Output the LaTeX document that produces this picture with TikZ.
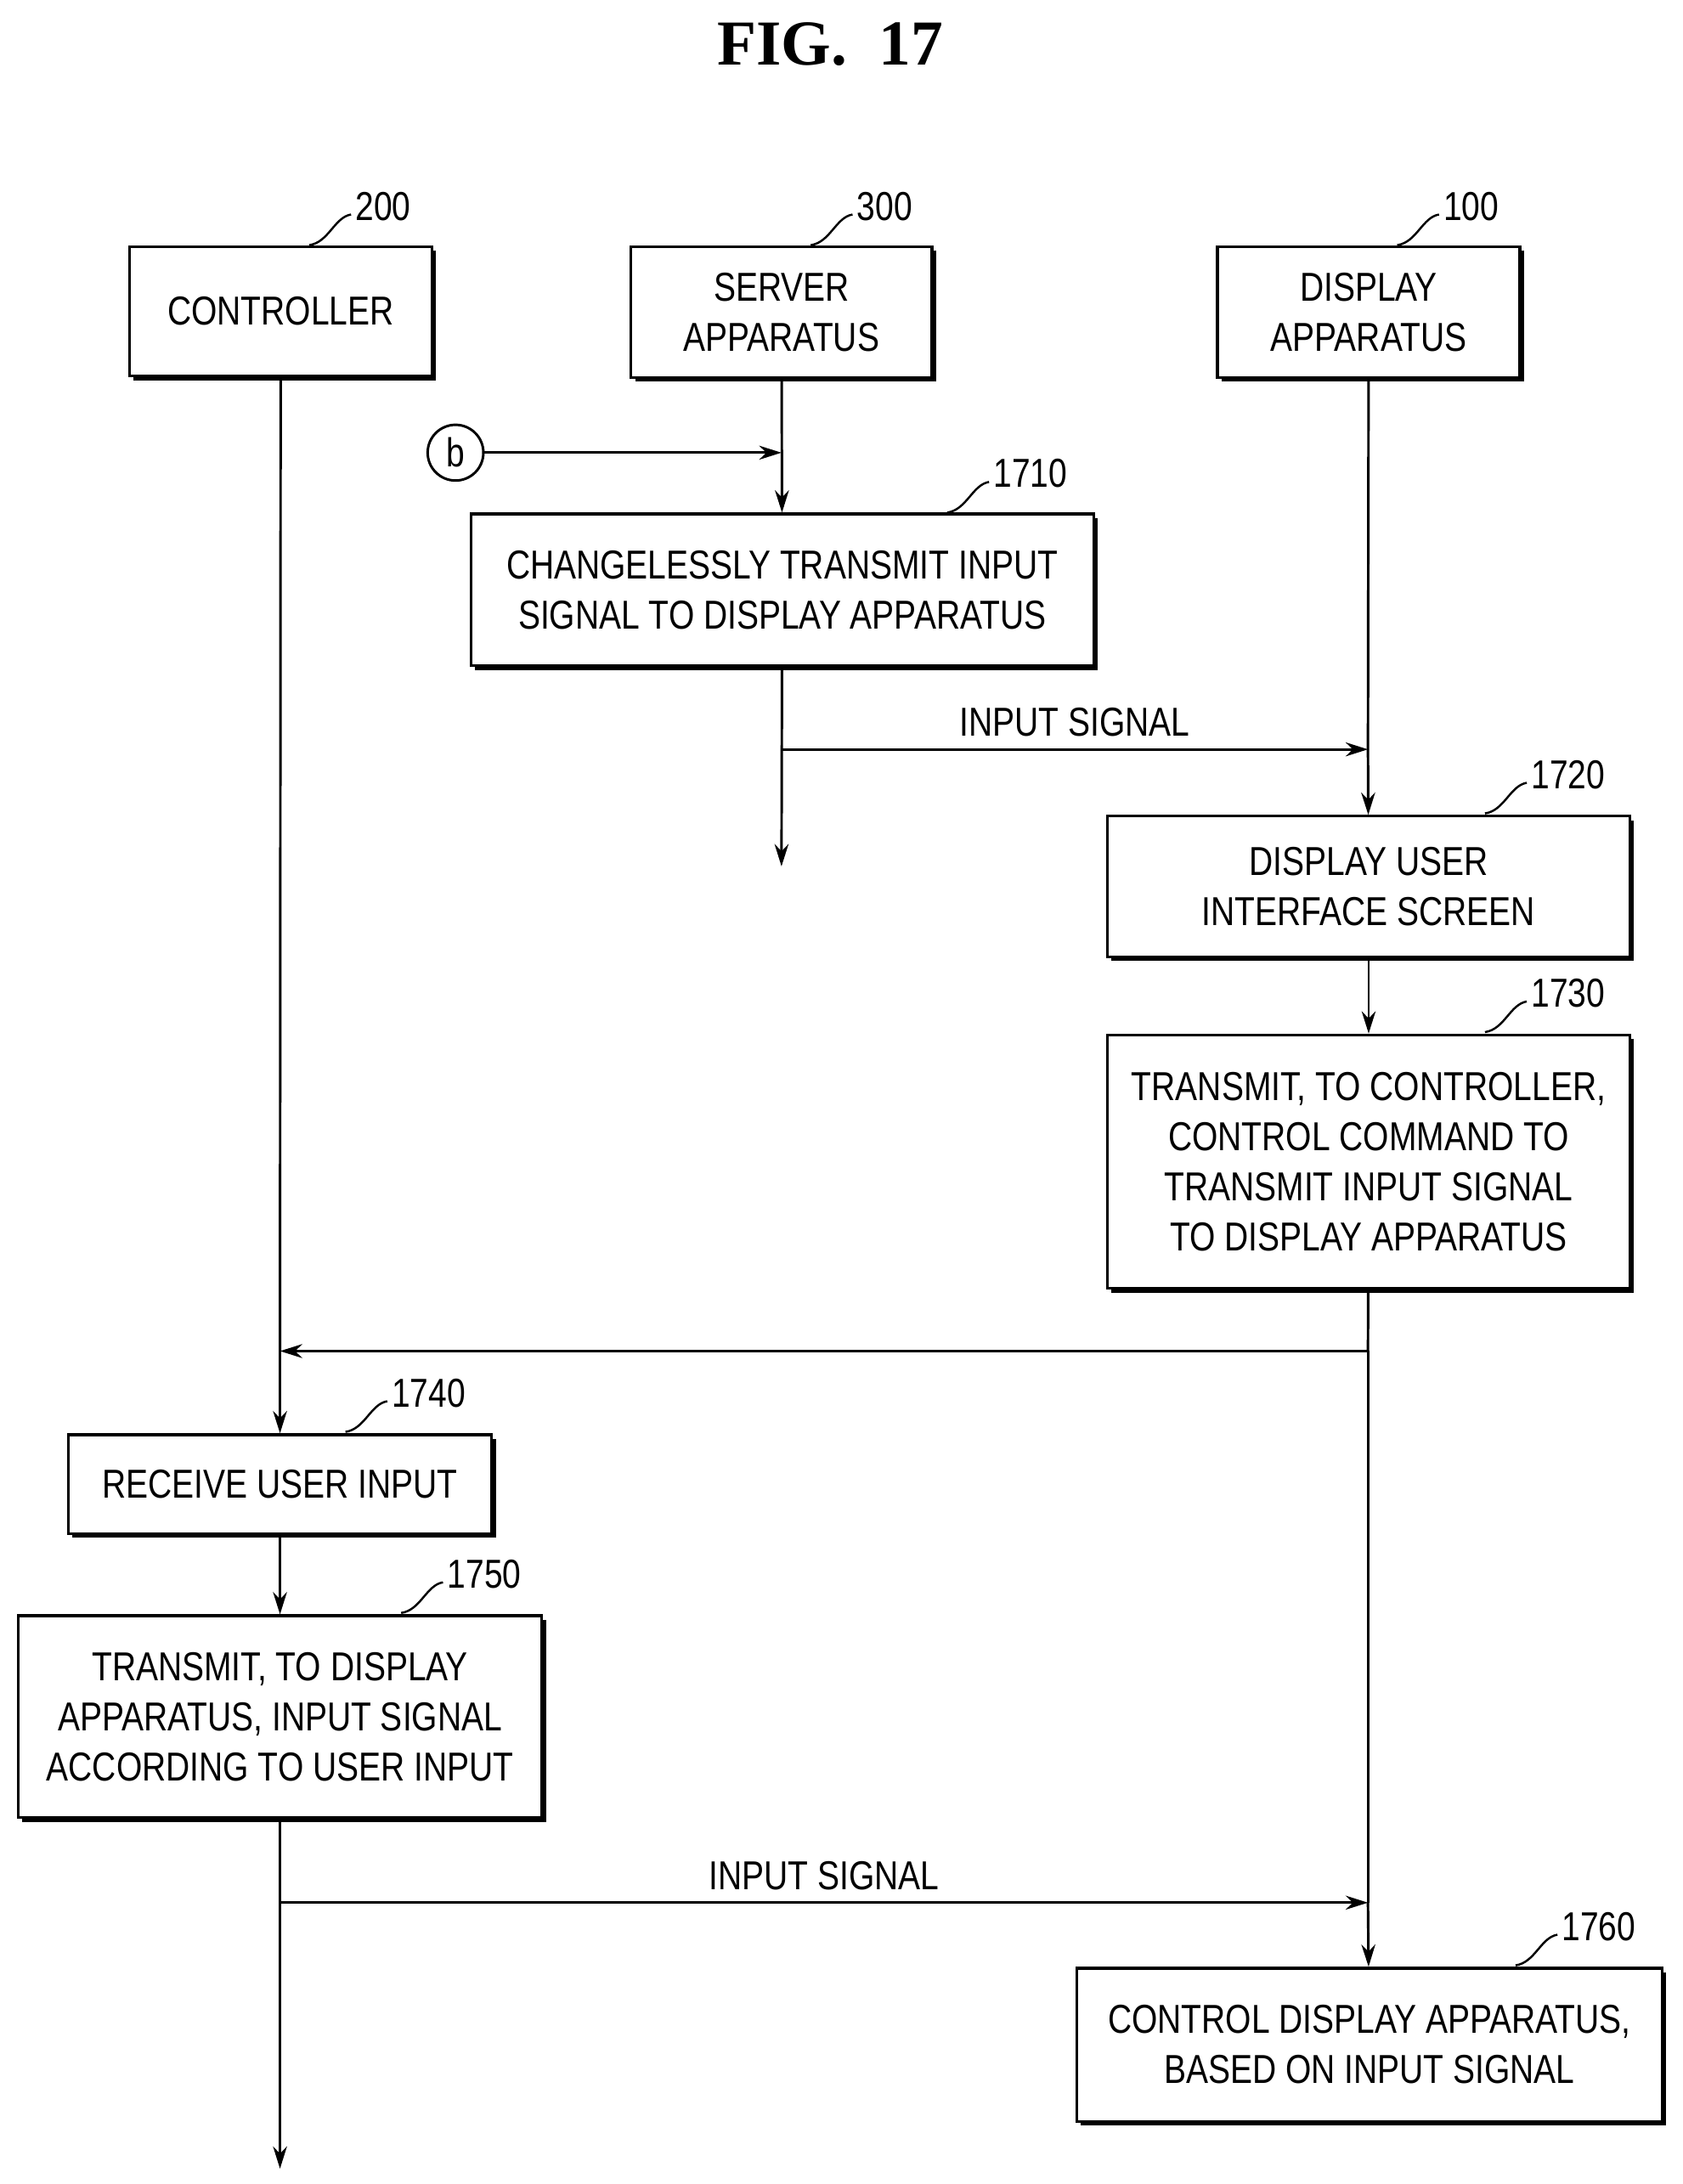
\documentclass[tikz,border=0pt]{standalone}
\usepackage{fontspec}
\setmainfont{Liberation Sans}[FakeStretch=0.82]
\newfontfamily\titlefont{Liberation Serif}
\usetikzlibrary{arrows.meta,shadows}
\begin{document}
\begin{tikzpicture}[x=1pt,y=-1pt,
  box/.style={draw,line width=2pt,fill=white,align=center,inner sep=0pt,
    font=\fontsize{29}{36}\selectfont,
    drop shadow={shadow xshift=3pt,shadow yshift=-3pt,fill=black,opacity=1}},
  arr/.style={line width=1.8pt,-{Stealth[length=16pt,width=10pt]}},
  ln/.style={line width=1.8pt},
  lbl/.style={font=\fontsize{29}{34}\selectfont,anchor=west,inner sep=0pt},
  lead/.style={line width=1.5pt}]
\useasboundingbox (0,0) rectangle (1208,1568);
\node[font=\titlefont\bfseries\fontsize{46}{50}\selectfont] (title) at (596,32) {FIG.\ \ 17};
% header boxes
\node[box,minimum width=217pt,minimum height=93pt] (c) at (201.5,223.5) {CONTROLLER};
\node[box,minimum width=216pt,minimum height=94pt] (s) at (561,224) {SERVER\\APPARATUS};
\node[box,minimum width=217pt,minimum height=94pt] (d) at (982.5,224) {DISPLAY\\APPARATUS};
\node[box,minimum width=447pt,minimum height=109pt] (b1710) at (561.5,423.5) {CHANGELESSLY TRANSMIT INPUT\\SIGNAL TO DISPLAY APPARATUS};
\node[box,minimum width=375pt,minimum height=101pt] (b1720) at (982.5,636.5) {DISPLAY USER\\INTERFACE SCREEN};
\node[box,minimum width=375pt,minimum height=182pt] (b1730) at (982.5,834) {TRANSMIT, TO CONTROLLER,\\CONTROL COMMAND TO\\TRANSMIT INPUT SIGNAL\\TO DISPLAY APPARATUS};
\node[box,minimum width=304pt,minimum height=71pt] (b1740) at (201,1065.5) {RECEIVE USER INPUT};
\node[box,minimum width=376pt,minimum height=145pt] (b1750) at (201,1232.5) {TRANSMIT, TO DISPLAY\\APPARATUS, INPUT SIGNAL\\ACCORDING TO USER INPUT};
\node[box,minimum width=420pt,minimum height=110pt] (b1760) at (983,1468) {CONTROL DISPLAY APPARATUS,\\BASED ON INPUT SIGNAL};
% reference labels
\foreach \n/\x/\y in {200/222/176, 300/582/176, 100/1003/176, 1710/680/368, 1720/1066/584, 1730/1066/741, 1740/248/1028, 1750/288/1158, 1760/1088/1411}{
  \draw[lead] (\x,\y) .. controls (\x+14,\y-2) and (\x+18,\y-20) .. (\x+30,\y-22);
  \node[lbl] (l\n) at (\x+33,\y-28) {\n};
}
% circle b
\node[draw,circle,line width=1.8pt,minimum size=40pt,inner sep=0pt,font=\fontsize{29}{30}\selectfont] (cb) at (327,325) {b};
\coordinate (sb) at (561,325);
\draw[arr] (cb) -- (sb);
% lifelines
\coordinate (cend) at (201,1557);
\coordinate (send) at (561,622);
\coordinate (s1) at (561,538);
\coordinate (d1) at (982,538);
\coordinate (d2) at (982,970);
\coordinate (c2) at (201,970);
\coordinate (c3) at (201,1366);
\coordinate (d3) at (982,1366);
\draw[arr] (s) -- (b1710);
\draw[arr] (b1710) -- (send);
\draw[arr] (s1) -- node[above=5pt,font=\fontsize{29}{30}\selectfont] (t1) {INPUT SIGNAL} (d1);
\draw[ln] (d) -- (d1);
\draw[arr] (d1) -- (b1720);
\draw[arr] (b1720) -- (b1730);
\draw[ln] (b1730) -- (d2);
\draw[arr] (d2) -- (c2);
\draw[ln] (c) -- (c2);
\draw[arr] (c2) -- (b1740);
\draw[arr] (b1740) -- (b1750);
\draw[arr] (b1750) -- (cend);
\draw[arr] (c3) -- node[above=5pt,font=\fontsize{29}{30}\selectfont] (t2) {INPUT SIGNAL} (d3);
\draw[ln] (d2) -- (d3);
\draw[arr] (d3) -- (b1760);
\end{tikzpicture}
\end{document}
